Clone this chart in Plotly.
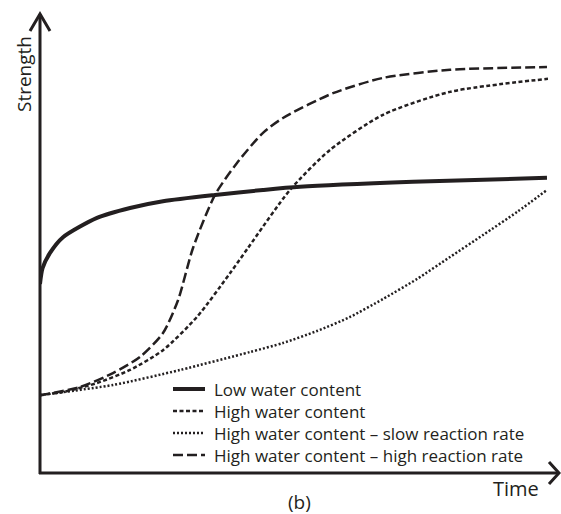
import plotly.graph_objects as go

# ---- data (Time, Strength in arbitrary units) ----
low_x = [0, 0.05, 0.197, 0.453, 1.122, 1.772, 2.421, 3.445, 4.39, 5.118, 7.343, 9.98]
low_y = [4.2, 4.55, 4.89, 5.24, 5.67, 5.89, 6.04, 6.18, 6.29, 6.36, 6.47, 6.56]

high_x = [0, 0.453, 1.122, 1.772, 2.421, 3.091, 3.74, 4.094, 4.921, 5.709, 6.752, 8.071, 10.0]
high_y = [1.73, 1.8, 2.0, 2.29, 2.73, 3.47, 4.44, 5.0, 6.29, 7.18, 7.96, 8.47, 8.76]

slow_x = [0, 1.437, 2.756, 4.134, 4.783, 5.453, 6.102, 6.752, 7.421, 8.071, 8.721, 9.39, 9.98]
slow_y = [1.733, 1.956, 2.289, 2.689, 2.889, 3.156, 3.467, 3.867, 4.311, 4.8, 5.289, 5.8, 6.289]

fast_x = [0, 0.787, 1.437, 1.969, 2.421, 2.717, 3.012, 3.445, 3.878, 4.39, 4.783, 5.768, 6.752, 8.071, 9.98]
fast_y = [1.73, 1.91, 2.22, 2.58, 3.11, 3.84, 5.0, 6.18, 6.89, 7.56, 7.89, 8.44, 8.78, 8.96, 9.02]

names = ["Low water content", "High water content",
         "High water content – slow reaction rate",
         "High water content – high reaction rate"]

INK = "#231f20"
FONT = "Open Sans"

W, H = 561, 514
ML, MR, MT, MB = 40, 13, 23, 41
PW, PH = W - ML - MR, H - MT - MB

def px(x):
    return (x - ML) / PW

def py(y):
    return (H - MB - y) / PH

styles = [
    dict(width=4, dash="solid"),
    dict(width=2.5, dash="4px,2.5px"),
    dict(width=2.5, dash="2px,2px"),
    dict(width=2.5, dash="10px,4px"),
]
series = [(low_x, low_y), (high_x, high_y), (slow_x, slow_y), (fast_x, fast_y)]

fig = go.Figure()
for (xs, ys), name, st in zip(series, names, styles):
    fig.add_trace(go.Scatter(x=xs, y=ys, mode="lines", name=name, showlegend=False,
                             line=dict(color=INK, width=st["width"], dash=st["dash"],
                                       shape="spline", smoothing=0.7)))

shapes = [
    dict(type="line", xref="paper", yref="paper", x0=px(40), x1=px(40), y0=py(474), y1=py(14),
         line=dict(color=INK, width=3)),
    dict(type="line", xref="paper", yref="paper", x0=px(39), x1=px(558), y0=py(473), y1=py(473),
         line=dict(color=INK, width=3)),
    dict(type="path", xref="paper", yref="paper",
         path=f"M {px(30)},{py(31)} L {px(40)},{py(14)} L {px(50)},{py(31)}",
         line=dict(color=INK, width=3)),
    dict(type="path", xref="paper", yref="paper",
         path=f"M {px(549)},{py(462)} L {px(559)},{py(473)} L {px(549)},{py(484)}",
         line=dict(color=INK, width=3)),
]

annotations = [
    dict(text="Strength", x=px(24), y=py(74), xref="paper", yref="paper", textangle=-90,
         xanchor="center", yanchor="middle",
         showarrow=False, font=dict(family=FONT, size=19, color=INK)),
    dict(text="Time", x=px(516), y=py(488), xref="paper", yref="paper",
         xanchor="center", yanchor="middle",
         showarrow=False, font=dict(family=FONT, size=20, color=INK)),
    dict(text="(b)", x=px(299), y=py(517), xref="paper", yref="paper",
         xanchor="center", yanchor="bottom",
         showarrow=False, font=dict(family=FONT, size=19, color=INK)),
]

# hand-placed legend
row_y = [389, 411, 433, 455]
for name, st, ry in zip(names, styles, row_y):
    shapes.append(dict(type="line", xref="paper", yref="paper",
                       x0=px(173), x1=px(205), y0=py(ry), y1=py(ry),
                       line=dict(color=INK, width=st["width"], dash=st["dash"])))
    annotations.append(dict(text=name, x=px(212), y=py(ry), xref="paper", yref="paper",
                            xanchor="left", yanchor="middle", showarrow=False,
                            font=dict(family=FONT, size=17, color=INK)))

fig.update_layout(
    width=W, height=H, autosize=False,
    margin=dict(l=ML, r=MR, t=MT, b=MB),
    paper_bgcolor="white", plot_bgcolor="white",
    xaxis=dict(range=[0, 10], visible=False, fixedrange=True),
    yaxis=dict(range=[0, 10], visible=False, fixedrange=True),
    showlegend=False,
    shapes=shapes, annotations=annotations,
    font=dict(family=FONT, color=INK),
)

fig.write_html("out.html", config={"displayModeBar": False},
               post_script="document.body.style.margin='0';")
